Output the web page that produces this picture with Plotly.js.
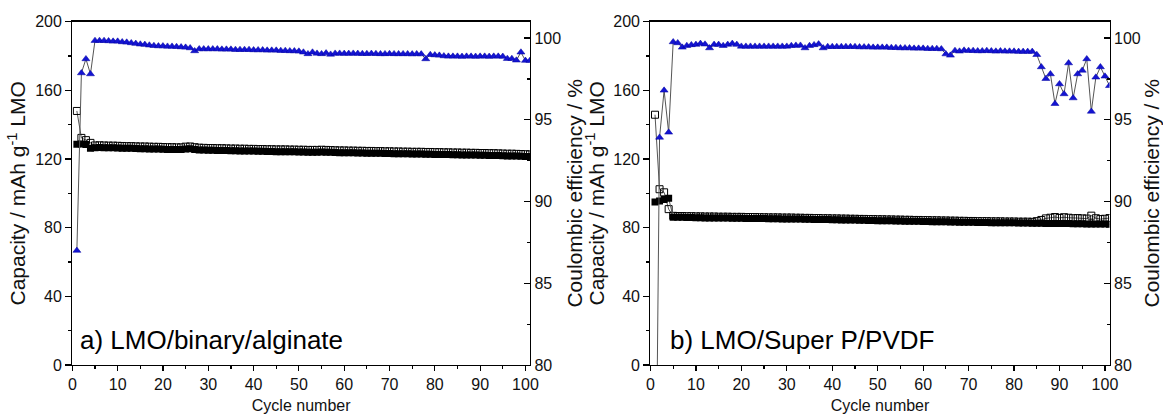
<!DOCTYPE html>
<html>
<head>
<meta charset="utf-8">
<script src="https://cdn.plot.ly/plotly-3.0.1.min.js"></script>
<style>html,body{margin:0;padding:0;background:#fff;}#chart{width:1163px;height:418px;}</style>
</head>
<body>
<div id="chart"></div>
<script>
// ---- Panel a) LMO/binary/alginate ----
const leftDischarge = [128.6,128.8,128.4,126.2,126.6,126.7,126.6,126.5,126.5,126.4,
 126.3,126.2,126.2,126.1,126.0,126.0,125.9,125.8,125.8,125.7,
 125.6,125.6,125.5,125.5,125.9,126.0,125.6,125.3,125.2,125.1,
 125.1,125.0,125.0,124.9,124.8,124.8,124.7,124.7,124.6,124.6,
 124.5,124.5,124.4,124.4,124.3,124.3,124.3,124.2,124.2,124.1,
 124.1,124.0,124.0,124.0,124.1,124.0,123.9,123.8,123.7,123.7,
 123.6,123.6,123.5,123.5,123.4,123.4,123.3,123.3,123.2,123.2,
 123.1,123.1,123.0,123.0,122.9,122.9,122.9,122.8,122.8,122.7,
 122.7,122.6,122.6,122.5,122.5,122.4,122.4,122.3,122.3,122.2,
 122.2,122.1,122.1,122.0,121.9,121.8,121.8,121.7,121.6,121.5,
 121.4];
const leftCharge = [148.0,132.3,131.0,129.4,127.9,128.0,127.9,127.8,127.8,127.7,
 127.6,127.5,127.5,127.4,127.3,127.3,127.2,127.1,127.1,127.0,
 126.9,126.9,126.8,126.8,127.2,127.3,126.9,126.6,126.5,126.4,
 126.4,126.3,126.3,126.2,126.1,126.1,126.0,126.0,125.9,125.9,
 125.8,125.8,125.7,125.7,125.6,125.6,125.6,125.5,125.5,125.4,
 125.4,125.3,125.3,125.3,125.4,125.3,125.2,125.1,125.0,125.0,
 124.9,124.9,124.8,124.8,124.7,124.7,124.6,124.6,124.5,124.5,
 124.4,124.4,124.3,124.3,124.2,124.2,124.2,124.1,124.1,124.0,
 124.0,123.9,123.9,123.8,123.8,123.7,123.7,123.6,123.6,123.5,
 123.5,123.4,123.4,123.3,123.2,123.1,123.1,123.0,122.9,122.8,
 122.7];
const leftEfficiency = [87.0,97.86,98.72,97.80,99.84,99.84,99.84,99.82,99.80,99.80,
 99.76,99.74,99.70,99.66,99.62,99.60,99.56,99.53,99.51,99.51,
 99.49,99.49,99.47,99.45,99.43,99.39,99.21,99.33,99.33,99.33,
 99.33,99.33,99.31,99.31,99.31,99.29,99.29,99.29,99.29,99.27,
 99.27,99.27,99.25,99.25,99.25,99.23,99.23,99.21,99.21,99.19,
 99.13,99.03,99.13,99.06,99.03,99.08,99.00,99.06,99.06,99.05,
 99.05,99.06,99.05,99.04,99.04,99.05,99.04,99.03,99.03,99.04,
 99.03,99.03,99.03,99.03,99.02,99.03,99.02,98.72,98.98,98.96,
 98.94,98.90,98.88,98.88,98.88,98.87,98.88,98.88,98.87,98.88,
 98.88,98.87,98.88,98.88,98.87,98.74,98.74,98.64,99.13,98.62,
 98.62];

// ---- Panel b) LMO/Super P/PVDF ----
const rightDischarge = [95.0,95.6,96.4,97.2,86.1,86.0,86.0,85.9,85.9,85.8,
 85.8,85.7,85.7,85.7,85.6,85.6,85.6,85.5,85.5,85.5,
 85.4,85.4,85.4,85.3,85.3,85.2,85.2,85.2,85.1,85.1,
 85.1,85.0,85.0,84.9,84.9,84.8,84.8,84.7,84.7,84.6,
 84.6,84.5,84.5,84.4,84.4,84.3,84.3,84.2,84.2,84.1,
 84.1,84.0,84.0,83.9,83.9,83.8,83.8,83.7,83.7,83.6,
 83.6,83.5,83.5,83.4,83.4,83.3,83.3,83.2,83.2,83.1,
 83.1,83.0,83.0,83.0,82.9,82.9,82.9,82.8,82.8,82.8,
 82.7,82.7,82.7,82.6,82.6,82.6,82.5,82.5,82.5,82.4,
 82.4,82.4,82.3,82.3,82.3,82.2,82.2,82.2,82.1,82.1,
 82.0];
const rightCharge = [145.8,102.4,100.6,90.8,86.9,86.8,86.8,86.7,86.7,86.6,
 86.6,86.5,86.5,86.5,86.4,86.4,86.4,86.3,86.3,86.3,
 86.2,86.2,86.2,86.1,86.1,86.0,86.0,86.0,85.9,85.9,
 85.9,85.8,85.8,85.7,85.7,85.6,85.6,85.5,85.5,85.4,
 85.4,85.3,85.3,85.2,85.2,85.1,85.1,85.0,85.0,84.9,
 84.9,84.8,84.8,84.7,84.7,84.6,84.6,84.5,84.5,84.4,
 84.4,84.3,84.3,84.2,84.2,84.1,84.1,84.0,84.0,83.9,
 83.9,83.8,83.8,83.8,83.7,83.7,83.7,83.6,83.6,83.6,
 83.5,83.5,83.5,83.4,83.8,84.5,85.4,85.8,86.2,85.7,
 86.1,85.8,85.5,85.6,85.4,85.3,87.0,85.5,85.0,85.2,
 85.6];
const rightEfficiency = [65.2,93.92,96.80,94.23,99.76,99.70,99.43,99.53,99.58,99.60,
 99.66,99.62,99.39,99.60,99.60,99.53,99.60,99.66,99.60,99.49,
 99.49,99.49,99.49,99.49,99.49,99.49,99.49,99.49,99.49,99.49,
 99.53,99.55,99.55,99.39,99.53,99.58,99.63,99.39,99.47,99.47,
 99.47,99.47,99.47,99.47,99.47,99.45,99.45,99.45,99.43,99.43,
 99.43,99.43,99.41,99.41,99.39,99.39,99.39,99.37,99.37,99.37,
 99.35,99.35,99.35,99.33,99.02,98.94,99.23,99.19,99.25,99.23,
 99.23,99.21,99.21,99.23,99.21,99.19,99.21,99.19,99.19,99.19,
 99.17,99.17,99.17,99.17,98.98,98.23,97.51,97.80,95.98,97.19,
 96.58,98.47,96.33,97.80,98.02,98.72,95.51,97.60,98.23,97.66,
 97.08];

const xTicks = [0,10,20,30,40,50,60,70,80,90,100];
const capTicks = [0,40,80,120,160,200];
const ceTicks = [80,85,90,95,100];
const panelLabels = ['a) LMO/binary/alginate', 'b) LMO/Super P/PVDF'];
const capTitle = 'Capacity / mAh g<sup>-1</sup> LMO';
const ceTitle = 'Coulombic efficiency / %';
const xTitle = 'Cycle number';

const FONT = 'Liberation Sans, Arial, Helvetica, sans-serif';
const lineStyle = {color: '#555555', width: 1};

function panelTraces(dis, cha, ce, xa, ycap, yce) {
  const cyc = ce.map((_, i) => i + 1);
  return [
    {x: cyc, y: cha, xaxis: xa, yaxis: ycap, type: 'scatter', mode: 'lines+markers',
     line: lineStyle, marker: {symbol: 'square-open', size: 7, color: '#000', line: {width: 1, color: '#000'}}},
    {x: cyc, y: dis, xaxis: xa, yaxis: ycap, type: 'scatter', mode: 'lines+markers',
     line: lineStyle, marker: {symbol: 'square', size: 7, color: '#000', line: {width: 0}}},
    {x: cyc, y: ce, xaxis: xa, yaxis: yce, type: 'scatter', mode: 'lines+markers',
     line: lineStyle, marker: {symbol: 'triangle-up', size: 7, color: '#1414D2', line: {width: 0.5, color: '#0000A0'}}}
  ];
}

const data = [].concat(
  panelTraces(leftDischarge, leftCharge, leftEfficiency, 'x', 'y', 'y2'),
  panelTraces(rightDischarge, rightCharge, rightEfficiency, 'x2', 'y3', 'y4')
);

const yDom = [0.1268, 0.9481];
const tickFont = {family: FONT, size: 16, color: '#111'};
const xTitleFont = {family: FONT, size: 16, color: '#111'};
const yTitleFont = {family: FONT, size: 21, color: '#111'};

function xAxis(dom, anchor) {
  return {domain: dom, anchor: anchor, range: [0, 101], tickvals: xTicks, ticks: 'outside',
    ticklen: 5, tickwidth: 1.2, tickcolor: '#000', showline: true, linecolor: '#000', linewidth: 1.3,
    mirror: true, showgrid: false, zeroline: false, tickfont: tickFont,
    minor: {dtick: 5, tick0: 0, ticks: 'outside', ticklen: 3, tickwidth: 1.2, tickcolor: '#000', showgrid: false},
    title: {text: xTitle, font: xTitleFont, standoff: 7}};
}
function capAxis(anchor) {
  return {domain: yDom, anchor: anchor, range: [0, 200], tickvals: capTicks, ticks: 'outside',
    ticklen: 6, tickwidth: 1.2, tickcolor: '#000', showline: true, linecolor: '#000', linewidth: 1.3,
    showgrid: false, zeroline: false, tickfont: tickFont,
    minor: {dtick: 20, tick0: 0, ticks: 'outside', ticklen: 3, tickwidth: 1.2, tickcolor: '#000', showgrid: false},
    title: {text: capTitle, font: yTitleFont, standoff: 3}};
}
function ceAxis(anchor, over) {
  return {domain: yDom, anchor: anchor, overlaying: over, side: 'right', range: [80, 101], tickvals: ceTicks,
    ticks: 'inside', ticklen: 6, tickwidth: 1.2, tickcolor: '#000', showline: true, linecolor: '#000', linewidth: 1.3,
    showgrid: false, zeroline: false, tickfont: tickFont,
    minor: {dtick: 2.5, tick0: 80, ticks: 'inside', ticklen: 3, tickwidth: 1.2, tickcolor: '#000', showgrid: false},
    title: {text: ceTitle, font: yTitleFont, standoff: 7}};
}

const layout = {
  width: 1163, height: 418, margin: {l: 0, r: 0, t: 0, b: 0},
  paper_bgcolor: '#fff', plot_bgcolor: '#fff', showlegend: false,
  font: {family: FONT, color: '#111'},
  xaxis: xAxis([0.0622, 0.4557], 'y'),
  yaxis: capAxis('x'),
  yaxis2: ceAxis('x', 'y'),
  xaxis2: xAxis([0.5593, 0.9540], 'y3'),
  yaxis3: capAxis('x2'),
  yaxis4: ceAxis('x2', 'y3'),
  annotations: [
    {text: panelLabels[0], xref: 'paper', yref: 'paper', x: 0.0671, y: 0.1866, xanchor: 'left', yanchor: 'middle',
     showarrow: false, font: {family: FONT, size: 26, color: '#000'}},
    {text: panelLabels[1], xref: 'paper', yref: 'paper', x: 0.5744, y: 0.1866, xanchor: 'left', yanchor: 'middle',
     showarrow: false, font: {family: FONT, size: 26, color: '#000'}}
  ]
};

Plotly.newPlot('chart', data, layout, {staticPlot: true, displayModeBar: false});
</script>
</body>
</html>
